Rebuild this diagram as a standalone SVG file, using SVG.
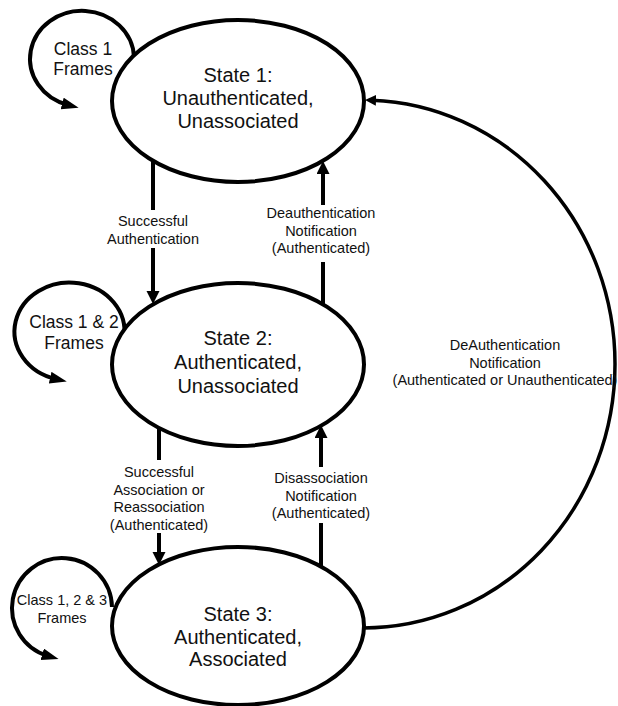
<svg xmlns="http://www.w3.org/2000/svg" width="618" height="706" viewBox="0 0 618 706">
<style>
.st{fill:#fff;stroke:#000;stroke-width:4}
.ln{fill:none;stroke:#000;stroke-width:4}
.t20{font-family:"Liberation Sans",Arial,sans-serif;font-size:20px;fill:#111;text-anchor:middle}
.t17{font-family:"Liberation Sans",Arial,sans-serif;font-size:17.5px;fill:#111;text-anchor:middle}
.t14{font-family:"Liberation Sans",Arial,sans-serif;font-size:14.5px;fill:#111;text-anchor:middle}
</style>
<defs>
<marker id="arrow" markerUnits="userSpaceOnUse" markerWidth="14" markerHeight="14" refX="5" refY="6.5" orient="auto">
<path d="M0,0 L13,6.5 L0,13 z" fill="#000"/>
</marker>
<marker id="arrowL" markerUnits="userSpaceOnUse" markerWidth="18" markerHeight="14" refX="6" refY="6" orient="auto">
<path d="M0,0 L17,6 L0,12 z" fill="#000"/>
</marker>
<marker id="arrowS" markerUnits="userSpaceOnUse" markerWidth="12" markerHeight="12" refX="4" refY="5.5" orient="auto">
<path d="M0,0 L11,5.5 L0,11 z" fill="#000"/>
</marker>
</defs>
<g id="connectors">
<path class="ln" d="M134 57 A52 48 0 1 0 68 105" marker-end="url(#arrowL)"/>
<path class="ln" d="M124 338 A55 49 0 1 0 56 379" marker-end="url(#arrowL)"/>
<path class="ln" d="M112 607 A50 50 0 1 0 48 656" marker-end="url(#arrowL)"/>
<path class="ln" d="M153 161 V210 M153 248 V296" marker-end="url(#arrow)"/>
<path class="ln" d="M323 304 V262 M323 205 V169" marker-end="url(#arrow)"/>
<path class="ln" d="M159 427 V460 M159 533 V557" marker-end="url(#arrow)"/>
<path class="ln" d="M321 567 V523 M321 467 V433" marker-end="url(#arrow)"/>
<path class="ln" style="stroke-width:3.5" d="M363 628 A252 264 0 0 0 615 364 A252 264 0 0 0 372 100.2" marker-end="url(#arrowS)"/>
<g id="connector-labels">
<text class="t14" x="153" y="226">Successful</text>
<text class="t14" x="153" y="243.5">Authentication</text>
<text class="t14" x="321" y="218">Deauthentication</text>
<text class="t14" x="321" y="235.5">Notification</text>
<text class="t14" x="321" y="253">(Authenticated)</text>
<text class="t14" x="159" y="477">Successful</text>
<text class="t14" x="159" y="494.5">Association or</text>
<text class="t14" x="159" y="512">Reassociation</text>
<text class="t14" x="159" y="529.5">(Authenticated)</text>
<text class="t14" x="321" y="483">Disassociation</text>
<text class="t14" x="321" y="500.5">Notification</text>
<text class="t14" x="321" y="518">(Authenticated)</text>
<text class="t14" x="505" y="350">DeAuthentication</text>
<text class="t14" x="505" y="367.5">Notification</text>
<text class="t14" x="505" y="385">(Authenticated or Unauthenticated)</text>
<text class="t17" x="83" y="55">Class 1</text>
<text class="t17" x="83" y="75">Frames</text>
<text class="t17" x="74" y="328">Class 1 &amp; 2</text>
<text class="t17" x="74" y="349">Frames</text>
<text class="t14" x="62" y="605">Class 1, 2 &amp; 3</text>
<text class="t14" x="62" y="623">Frames</text>
</g>
</g>
<g id="state1">
<ellipse class="st" cx="238" cy="101" rx="126" ry="81"/>
<text class="t20" x="238" y="82">State 1:</text>
<text class="t20" x="238" y="105">Unauthenticated,</text>
<text class="t20" x="238" y="128">Unassociated</text>
</g>
<g id="state2">
<ellipse class="st" cx="238" cy="364.5" rx="126" ry="81.5"/>
<text class="t20" x="238" y="345">State 2:</text>
<text class="t20" x="238" y="369">Authenticated,</text>
<text class="t20" x="238" y="393">Unassociated</text>
</g>
<g id="state3">
<ellipse class="st" cx="238" cy="626" rx="126" ry="79"/>
<text class="t20" x="238" y="621">State 3:</text>
<text class="t20" x="238" y="643.5">Authenticated,</text>
<text class="t20" x="238" y="666">Associated</text>
</g>
</svg>
